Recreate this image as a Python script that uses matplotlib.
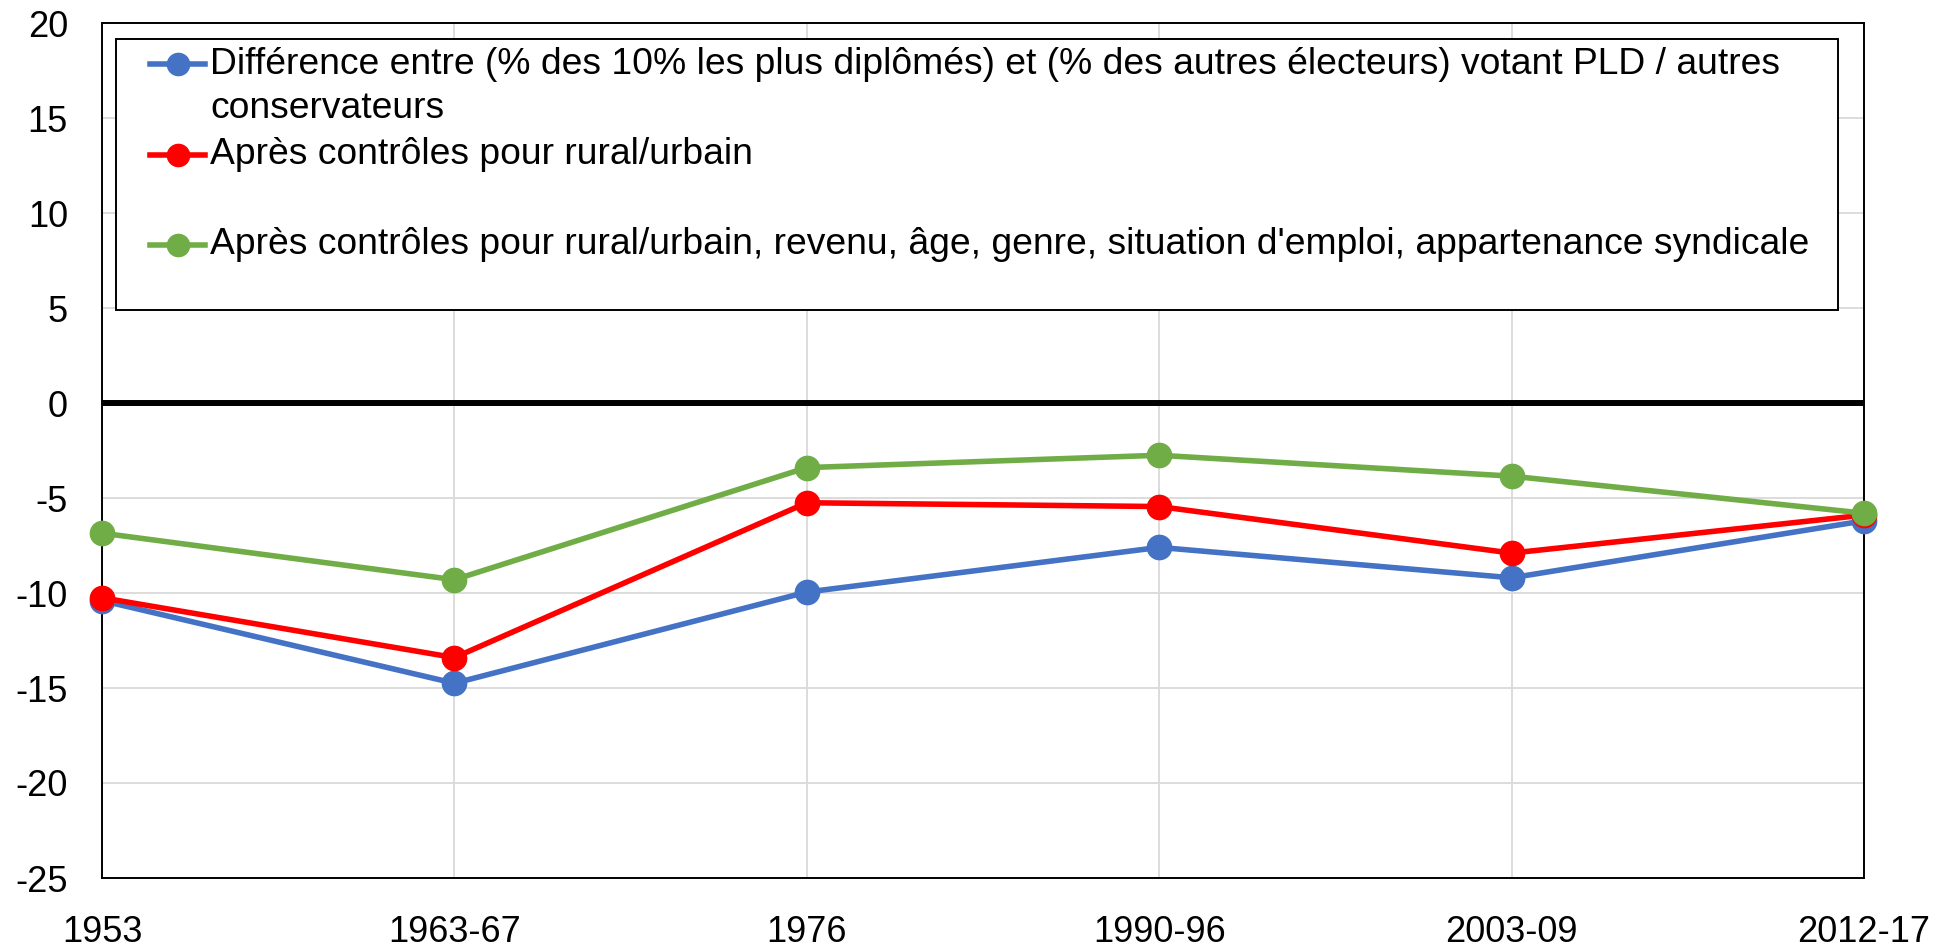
import matplotlib
matplotlib.use("Agg")
import matplotlib.pyplot as plt
from matplotlib.lines import Line2D
from matplotlib.patches import Rectangle

plt.rcParams['font.family'] = ['Liberation Sans', 'DejaVu Sans']

categories = ["1953", "1963-67", "1976", "1990-96", "2003-09", "2012-17"]
diff_raw = [-10.4, -14.75, -9.95, -7.6, -9.2, -6.2]
ctrl_urban = [-10.25, -13.4, -5.25, -5.45, -7.9, -5.9]
ctrl_all = [-6.85, -9.3, -3.4, -2.75, -3.85, -5.8]

labels = [
    "Différence entre (% des 10% les plus diplômés) et (% des autres électeurs) votant PLD / autres",
    "Après contrôles pour rural/urbain",
    "Après contrôles pour rural/urbain, revenu, âge, genre, situation d'emploi, appartenance syndicale",
]
label_cont = "conservateurs"
colors = ["#4472C4", "#FF0000", "#70AD47"]
yticks = [20, 15, 10, 5, 0, -5, -10, -15, -20, -25]

W, H = 1953, 951
fig = plt.figure(figsize=(W / 100, H / 100), dpi=100)
L, R, T, B = 102, 1864, 23, 878
ax = fig.add_axes([L / W, 1 - B / H, (R - L) / W, (B - T) / H])

x = list(range(len(categories)))
for vals, c in zip([diff_raw, ctrl_urban, ctrl_all], colors):
    ax.plot(x, vals, color=c, lw=4.0, marker='o', markersize=17.5, markeredgewidth=1,
            zorder=3, clip_on=False)

ax.axhline(0, color='black', lw=4.3, zorder=2)
ax.set_xlim(0, len(categories) - 1)
ax.set_ylim(-25, 20)
ax.set_yticks(yticks)
ax.set_yticklabels([str(v) for v in yticks])
ax.set_xticks(x)
ax.set_xticklabels(categories)
ax.tick_params(axis='both', length=0, labelsize=26)
ax.tick_params(axis='y', pad=24.5)
ax.tick_params(axis='x', pad=27)
ax.grid(True, color='#d9d9d9', lw=1.3, zorder=0)
ax.set_axisbelow(True)
for s in ax.spines.values():
    s.set_color('black')
    s.set_linewidth(1.4)

# Legend (manual, Excel-style)
def fx(px):
    return px / W

def fy(py):
    return 1 - py / H

box = Rectangle((fx(116), fy(310)), fx(1838) - fx(116), fy(39) - fy(310),
                transform=fig.transFigure, facecolor='white', edgecolor='black', lw=1.4, zorder=5)
fig.add_artist(box)
entry_y = [64, 155, 245]
fs = 26.8
for lab, c, yy in zip(labels, colors, entry_y):
    fig.add_artist(Line2D([fx(150), fx(205)], [fy(yy), fy(yy)], transform=fig.transFigure,
                          color=c, lw=4.0, zorder=6))
    fig.add_artist(Line2D([fx(178)], [fy(yy)], transform=fig.transFigure, color=c,
                          marker='o', markersize=16, zorder=7))
    fig.text(fx(210), fy(yy), lab, fontsize=fs, va='center', ha='left', zorder=8)
fig.text(fx(210), fy(108), label_cont, fontsize=fs, va='center', ha='left', zorder=8)

fig.savefig("out.png", dpi=100)
